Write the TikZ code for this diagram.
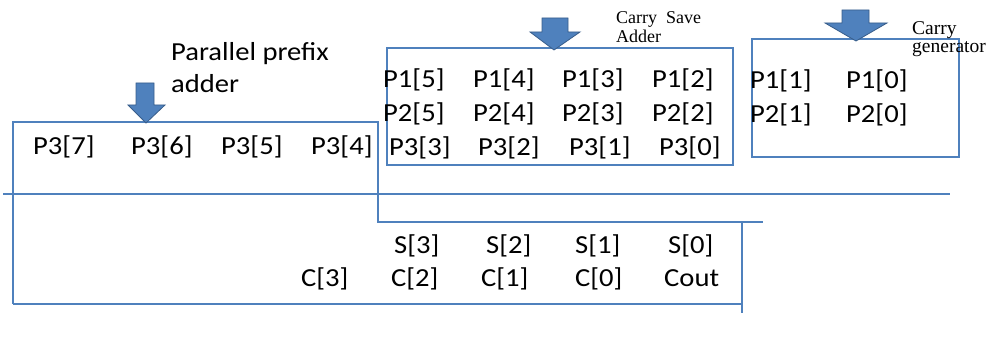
\documentclass[tikz,border=0pt]{standalone}
\usepackage{fontspec}
\setmainfont[FakeStretch=1.1]{Carlito}
\newfontfamily\seriflab{Liberation Serif}
\definecolor{ln}{RGB}{79,129,189}
\definecolor{ard}{RGB}{56,93,138}
\begin{document}
\begin{tikzpicture}[x=1pt,y=-1pt,
  txt/.style={anchor=base west, inner sep=0pt, font=\fontsize{26}{30}\selectfont},
  lab/.style={anchor=base west, inner sep=0pt, align=left, font=\seriflab\fontsize{18}{19}\selectfont},
  boxline/.style={draw=ln, line width=1.3pt},
  arrowst/.style={fill=ln, draw=ard, line width=0.8pt, line join=miter}]
\useasboundingbox (0,0) rectangle (989,347);

% lines and boxes
\draw[boxline] (13,304) -- (13,122) -- (378,122) -- (378,222) -- (763,222);
\draw[boxline] (13,304) -- (742,304);
\draw[boxline] (742,222) -- (742,313);
\draw[boxline] (3,194) -- (950,194);
\draw[boxline] (387,48) rectangle (733,165);
\draw[boxline] (752,39) rectangle (959,157);

% arrows
\filldraw[arrowst] (136,83) -- (154,83) -- (154,105) -- (165,105) -- (146,123) -- (128,105) -- (136,105) -- cycle;
\filldraw[arrowst] (542,18) -- (568,18) -- (568,32) -- (580,32) -- (554,50) -- (530,32) -- (542,32) -- cycle;
\filldraw[arrowst] (842,10) -- (869,10) -- (869,23) -- (887,23) -- (856,41) -- (825,23) -- (842,23) -- cycle;

% labels
\node[txt] (pp1) at (171,61) {Parallel prefix};
\node[txt] (pp2) at (171,93) {adder};
\node[lab] (csa1) at (616,24) {Carry\ \ Save};
\node[lab] (csa2) at (616,43) {Adder};
\node[lab, font=\seriflab\fontsize{19.5}{19}\selectfont] (cg1) at (912,35) {Carry};
\node[lab, font=\seriflab\fontsize{19.5}{19}\selectfont] (cg2) at (912,53) {generator};

% P3 upper row (parallel prefix)
\node[txt] (p37) at (33,155) {P3[7]};
\node[txt] (p36) at (131,155) {P3[6]};
\node[txt] (p35) at (221,155) {P3[5]};
\node[txt] (p34) at (311,155) {P3[4]};

% CSA rows
\node[txt] (p15) at (383,88) {P1[5]};
\node[txt] (p14) at (473,88) {P1[4]};
\node[txt] (p13) at (562,88) {P1[3]};
\node[txt] (p12) at (652,88) {P1[2]};
\node[txt] (p25) at (383,122) {P2[5]};
\node[txt] (p24) at (473,122) {P2[4]};
\node[txt] (p23) at (562,122) {P2[3]};
\node[txt] (p22) at (652,122) {P2[2]};
\node[txt] (p33) at (389,156) {P3[3]};
\node[txt] (p32) at (478,156) {P3[2]};
\node[txt] (p31) at (569,156) {P3[1]};
\node[txt] (p30) at (659,156) {P3[0]};

% carry generator rows
\node[txt] (p11) at (750,89) {P1[1]};
\node[txt] (p10) at (846,89) {P1[0]};
\node[txt] (p21) at (750,123) {P2[1]};
\node[txt] (p20) at (846,123) {P2[0]};

% outputs
\node[txt] (s3) at (394,254) {S[3]};
\node[txt] (s2) at (486,254) {S[2]};
\node[txt] (s1) at (575,254) {S[1]};
\node[txt] (s0) at (668,254) {S[0]};
\node[txt] (c3) at (301,287) {C[3]};
\node[txt] (c2) at (391,287) {C[2]};
\node[txt] (c1) at (481,287) {C[1]};
\node[txt] (c0) at (575,287) {C[0]};
\node[txt] (cout) at (664,287) {Cout};
\end{tikzpicture}
\end{document}
